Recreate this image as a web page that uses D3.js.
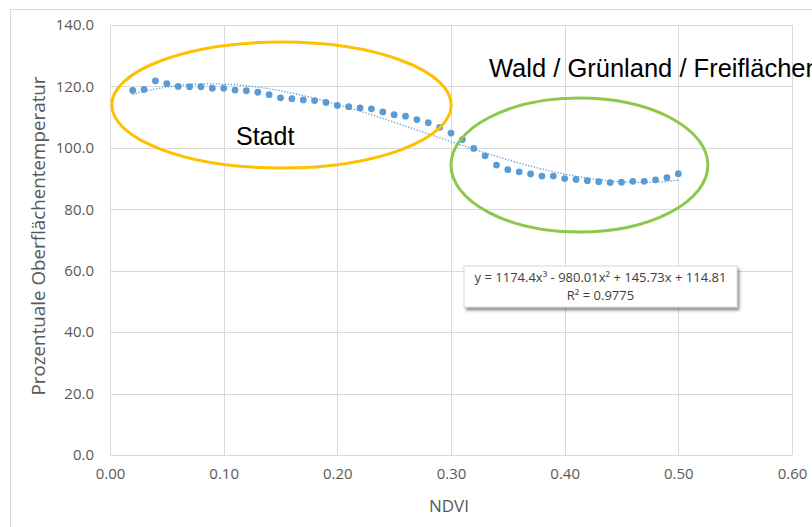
<!DOCTYPE html>
<html>
<head>
<meta charset="utf-8">
<script src="https://cdn.jsdelivr.net/npm/d3@7"></script>
<style>
  html, body { margin: 0; padding: 0; background: #ffffff; }
  svg { display: block; }
</style>
</head>
<body>
<svg id="chart" width="812" height="527"></svg>
<script>
// ---- data ----
const ndvi = [0.02,0.03,0.04,0.05,0.06,0.07,0.08,0.09,0.10,0.11,0.12,0.13,0.14,0.15,0.16,0.17,0.18,0.19,0.20,
  0.21,0.22,0.23,0.24,0.25,0.26,0.27,0.28,0.29,0.30,0.31,0.32,0.33,0.34,0.35,0.36,0.37,0.38,0.39,0.40,
  0.41,0.42,0.43,0.44,0.45,0.46,0.47,0.48,0.49,0.50];
const temperature = [118.7,119.0,121.8,120.9,120.0,119.9,119.9,119.4,119.4,118.8,118.6,118.1,117.3,116.3,116.0,115.6,115.4,114.8,113.8,
  113.4,113.0,112.7,111.7,110.8,110.3,109.2,108.2,106.7,104.8,102.7,99.8,97.4,94.4,92.9,92.2,91.5,90.8,90.8,90.0,
  89.7,89.3,89.0,88.7,88.8,89.1,89.1,89.6,90.3,91.6];
// trendline coefficients (x^3, x^2, x, const) from the chart's equation label
const trendCoef = [1174.4, -980.01, 145.73, 114.81];
const equationLines = ["y = 1174.4x³ - 980.01x² + 145.73x + 114.81", "R² = 0.9775"];
const xTicks = [0, 0.1, 0.2, 0.3, 0.4, 0.5, 0.6];
const yTicks = [0, 20, 40, 60, 80, 100, 120, 140];
const xTitle = "NDVI";
const yTitle = "Prozentuale Oberflächentemperatur";
const regionLabels = ["Stadt", "Wald / Grünland / Freiflächen"];

// ---- layout ----
const svg = d3.select("#chart");
const plot = { left: 110, right: 792, top: 25, bottom: 455 };
const x = d3.scaleLinear().domain([0, 0.6]).range([plot.left, plot.right]);
const y = d3.scaleLinear().domain([0, 140]).range([plot.bottom, plot.top]);
const gridColor = "#d9d9d9";
const textColor = "#595959";
const blue = "#5b9bd5";

// outer chart border
svg.append("rect").attr("x", 10.5).attr("y", 9.5).attr("width", 900).attr("height", 600)
  .attr("fill", "#fff").attr("stroke", gridColor).attr("stroke-width", 1);

// grid
const g = svg.append("g");
g.selectAll("line.hg").data(yTicks).join("line")
  .attr("x1", plot.left).attr("x2", plot.right)
  .attr("y1", d => Math.round(y(d)) + 0.5).attr("y2", d => Math.round(y(d)) + 0.5)
  .attr("stroke", gridColor).attr("stroke-width", 1);
g.selectAll("line.vg").data(xTicks).join("line")
  .attr("y1", plot.top).attr("y2", plot.bottom)
  .attr("x1", d => Math.round(x(d)) + 0.5).attr("x2", d => Math.round(x(d)) + 0.5)
  .attr("stroke", gridColor).attr("stroke-width", 1);

// axes (labels via d3 axis)
const font = "'Open Sans', 'Liberation Sans', sans-serif";
const yAxis = d3.axisLeft(y).tickValues(yTicks).tickFormat(d3.format(".1f")).tickSize(0).tickPadding(16);
const ya = svg.append("g").attr("transform", `translate(${plot.left},0)`).call(yAxis);
ya.select(".domain").remove();
ya.selectAll("text").attr("fill", textColor).style("font-family", font).style("font-size", "15px");

const xAxis = d3.axisBottom(x).tickValues(xTicks).tickFormat(d3.format(".2f")).tickSize(0).tickPadding(13);
const xa = svg.append("g").attr("transform", `translate(0,${plot.bottom})`).call(xAxis);
xa.select(".domain").remove();
xa.selectAll("text").attr("fill", textColor).style("font-family", font).style("font-size", "15px");

// axis titles
svg.append("text").attr("x", (plot.left + plot.right) / 2 - 2).attr("y", 512)
  .attr("text-anchor", "middle").attr("fill", textColor)
  .style("font-family", font).style("font-size", "17px").text(xTitle);
svg.append("text").attr("transform", `translate(45,${236}) rotate(-90)`)
  .attr("text-anchor", "middle").attr("fill", textColor)
  .style("font-family", font).style("font-size", "18.8px").text(yTitle);

// trendline (dotted)
const trendX = d3.range(ndvi[0], ndvi[ndvi.length - 1] + 1e-9, 0.002);
const poly = t => trendCoef[0] * t * t * t + trendCoef[1] * t * t + trendCoef[2] * t + trendCoef[3];
svg.append("path").datum(trendX)
  .attr("d", d3.line().x(d => x(d)).y(d => y(poly(d))))
  .attr("fill", "none").attr("stroke", blue).attr("stroke-width", 1.3)
  .attr("stroke-dasharray", "1.3,1.7");

// points
svg.selectAll("circle.pt").data(ndvi).join("circle")
  .attr("cx", d => x(d)).attr("cy", (d, i) => y(temperature[i])).attr("r", 3.4)
  .attr("fill", blue);

// annotation ellipses
svg.append("ellipse").attr("cx", x(0.1509)).attr("cy", y(113.95))
  .attr("rx", x(0.1493) - x(0)).attr("ry", y(0) - y(20.5))
  .attr("fill", "none").attr("stroke", "#ffc000").attr("stroke-width", 3);
svg.append("ellipse").attr("cx", x(0.413)).attr("cy", y(94.4))
  .attr("rx", x(0.113) - x(0)).attr("ry", y(0) - y(21.8))
  .attr("fill", "none").attr("stroke", "#8cc84b").attr("stroke-width", 3);

// region labels
svg.append("text").attr("x", 236).attr("y", 145).attr("fill", "#000")
  .style("font-family", "'Liberation Sans', Arial, sans-serif").style("font-size", "25px").text(regionLabels[0]);
svg.append("text").attr("x", 489).attr("y", 77).attr("fill", "#000")
  .style("font-family", "'Liberation Sans', Arial, sans-serif").style("font-size", "25.5px").text(regionLabels[1]);

// equation box with shadow
const defs = svg.append("defs");
const f = defs.append("filter").attr("id", "sh").attr("x", "-10%").attr("y", "-30%").attr("width", "130%").attr("height", "180%");
f.append("feDropShadow").attr("dx", 2).attr("dy", 3).attr("stdDeviation", 1.8).attr("flood-color", "#000").attr("flood-opacity", 0.45);
svg.append("rect").attr("x", 464).attr("y", 266).attr("width", 273).attr("height", 41)
  .attr("fill", "#fff").attr("stroke", "#d0d0d0").attr("stroke-width", 0.8).attr("filter", "url(#sh)");
svg.selectAll("text.eq").data(equationLines).join("text")
  .attr("x", 600.5).attr("y", (d, i) => 282 + i * 18)
  .attr("text-anchor", "middle").attr("fill", "#404040")
  .style("font-family", font).style("font-size", "13px").text(d => d);
</script>
</body>
</html>
